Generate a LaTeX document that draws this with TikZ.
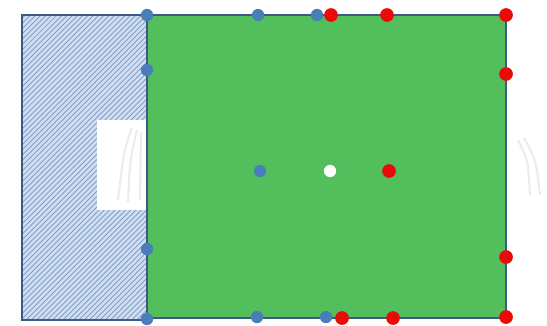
\documentclass[tikz,border=0pt]{standalone}
\usepackage{tikz}
\usepackage{xcolor}
\usetikzlibrary{patterns,positioning}
\definecolor{plategreen}{RGB}{82,190,92}
\definecolor{hatchblue}{RGB}{208,222,242}
\definecolor{hatchline}{RGB}{120,148,195}
\definecolor{edgeblue}{RGB}{60,90,130}
\definecolor{dotblue}{RGB}{74,126,187}
\definecolor{dotred}{RGB}{235,10,10}
\tikzset{
  bdot/.style={circle,fill=dotblue,inner sep=0pt,minimum size=7pt},
  rdot/.style={circle,fill=dotred,inner sep=0pt,minimum size=7.8pt},
  wdot/.style={circle,fill=white,inner sep=0pt,minimum size=7pt},
  ghost/.style={draw=gray!15,line width=1.2pt}
}

\begin{document}
\begin{tikzpicture}[x=0.02cm,y=-0.02cm]
  \useasboundingbox (0,0) rectangle (547,325);
  % hatched strip
  \fill[hatchblue] (22,15) rectangle (147,320);
  \fill[pattern=north east lines,pattern color=hatchline] (22,15) rectangle (147,320);
  \draw[edgeblue,line width=0.8pt] (22,15) rectangle (147,320);
  \fill[white] (97,120) rectangle (147,210);
  \draw[ghost] (132,128) .. controls (124,150) .. (118,200);
  \draw[ghost] (137,130) .. controls (130,160) .. (128,202);
  \draw[ghost] (141,132) -- (140,200);
  % green plate
  \fill[plategreen] (147,15) rectangle (506,318);
  \draw[edgeblue,line width=0.8pt] (147,15) rectangle (506,318);
  \draw[ghost] (518,140) .. controls (528,160) .. (530,195);
  \draw[ghost] (524,138) .. controls (536,160) .. (540,195);
  % blue dots
  \node[bdot] (b1) at (147,15) {};
  \node[bdot] (b2) at (147,70) {};
  \node[bdot] (b3) at (147,249) {};
  \node[bdot] (b4) at (147,319) {};
  \node[bdot] (b5) at (258,15) {};
  \node[bdot] (b6) at (317,15) {};
  \node[bdot] (b7) at (257,317) {};
  \node[bdot] (b8) at (326,317) {};
  \node[bdot] (bc) at (260,171) {};
  % centre
  \node[wdot] (wc) at (330,171) {};
  % red dots
  \node[rdot] (r1) at (331,15) {};
  \node[rdot] (r2) at (387,15) {};
  \node[rdot] (r3) at (506,15) {};
  \node[rdot] (r4) at (506,74) {};
  \node[rdot] (r5) at (506,257) {};
  \node[rdot] (r6) at (506,317) {};
  \node[rdot] (r7) at (342,318) {};
  \node[rdot] (r8) at (393,318) {};
  \node[rdot] (rc) at (389,171) {};
\end{tikzpicture}
\end{document}
